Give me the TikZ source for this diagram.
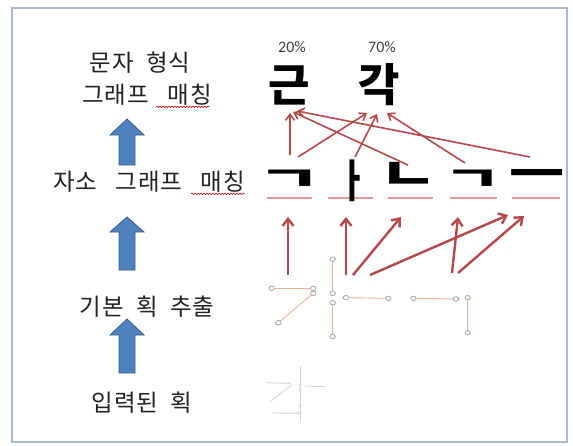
\documentclass[tikz,border=0pt]{standalone}
\usepackage{fontspec}
\setmainfont{Noto Sans CJK KR}
\newfontfamily\lblfont{Noto Sans CJK KR}[LetterSpace=4,WordSpace=2]
\newfontfamily\pctfont{Carlito}
\usetikzlibrary{arrows.meta,decorations.pathmorphing,shapes.geometric}
\definecolor{framec}{HTML}{A9B8D0}
\definecolor{bluefill}{HTML}{4F81BD}
\definecolor{blueline}{HTML}{385D8A}
\definecolor{redarr}{HTML}{B5484B}
\definecolor{uline}{HTML}{E49A9A}
\definecolor{strokec}{HTML}{F0B296}
\definecolor{dotc}{HTML}{9C9C9C}
\definecolor{faintc}{HTML}{D9CFC9}
\definecolor{txtc}{HTML}{222222}
\newcommand\wsp{\hspace{6pt}}
\tikzset{
  lbl/.style={font=\lblfont\fontsize{23.5}{26}\selectfont, text=txtc, inner sep=0pt},
  bigsyl/.style={font=\fontsize{45}{50}\selectfont\bfseries, inner sep=0pt},
  jamo/.style={font=\fontsize{40}{44}\selectfont\bfseries, inner sep=0pt},
  pct/.style={font=\pctfont\fontsize{16}{18}\selectfont, text=txtc!85, inner sep=0pt},
  blockarr/.style={fill=bluefill, draw=blueline, line width=0.8pt, line join=miter},
  thinred/.style={draw=redarr, line width=1.6pt, -{Straight Barb[length=6pt,width=9pt]}},
  thickred/.style={draw=redarr, line width=2.4pt, -{Straight Barb[length=7pt,width=11pt]}},
  ul/.style={draw=uline, line width=1.3pt},
  squig/.style={draw=red!80!black, line width=0.6pt, decorate, decoration={snake, amplitude=0.7pt, segment length=3pt}},
  sline/.style={draw=strokec, line width=0.9pt},
  sdot/.style={draw=dotc, fill=white, line width=0.7pt, ellipse, inner sep=0pt, minimum width=5.5pt, minimum height=4.5pt},
  fline/.style={draw=faintc, line width=0.8pt},
}
\begin{document}
\begin{tikzpicture}[x=1pt,y=-1pt]
\useasboundingbox (0,0) rectangle (573,445);
\fill[white] (0,0) rectangle (573,445);
\draw[framec, line width=2pt] (12,8) rectangle (567,442);

% left labels
\node[lbl] (t1) at (140,63) {문자 형식};
\node[lbl] (t2) at (147,95) {그래프\wsp{} 매칭};
\node[lbl] (t3) at (149,182) {자소\wsp{} 그래프\wsp{} 매칭};
\node[lbl] (t4) at (147,307) {기본 획 추출};
\node[lbl] (t5) at (142,403) {입력된 획};
\draw[squig] ([xshift=-56pt,yshift=-1pt]t2.south east) -- ([xshift=-2pt,yshift=-1pt]t2.south east);
\draw[squig] ([xshift=-54pt,yshift=-1pt]t3.south east) -- ([xshift=0pt,yshift=-1pt]t3.south east);

% block arrows
\draw[blockarr] (127,119) -- ++(17,16) -- ++(-9,0) -- ++(0,30) -- ++(-16,0) -- ++(0,-30) -- ++(-9,0) -- cycle;
\draw[blockarr] (127,217) -- ++(17,15) -- ++(-9,0) -- ++(0,38) -- ++(-16,0) -- ++(0,-38) -- ++(-9,0) -- cycle;
\draw[blockarr] (127,319) -- ++(17,16) -- ++(-9,0) -- ++(0,38) -- ++(-16,0) -- ++(0,-38) -- ++(-9,0) -- cycle;

% percentages and syllables
\node[pct] (p1) at (292,47) {20\%};
\node[pct] (p2) at (382,47) {70\%};
\node[bigsyl] (s1) at (289,85) {근};
\node[bigsyl] (s2) at (379,85) {각};

% underlines
\draw[ul] (267,198) -- (312,198);
\draw[ul] (328,198) -- (373,198);
\draw[ul] (388,198) -- (433,198);
\draw[ul] (450,198) -- (497,198);
\draw[ul] (512,198) -- (560,198);

% jamo
\node[jamo, xscale=1.75, yscale=0.8] (j1) at (290,180) {ㄱ};
\node[jamo, xscale=0.75, yscale=1.12] (j2) at (353,181) {ㅏ};
\node[jamo, xscale=1.6, yscale=1.1] (j3) at (409,176) {ㄴ};
\node[jamo, xscale=1.6, yscale=0.8] (j4) at (473,180) {ㄱ};
\node[jamo, xscale=1.5, yscale=1.2] (j5) at (537,180) {ㅡ};

% upper arrows
\coordinate (a1s) at (290,155); \coordinate (a1e) at (290,113);
\coordinate (a2s) at (298,157); \coordinate (a2e) at (367,113);
\coordinate (a3s) at (355,157); \coordinate (a3e) at (377,114);
\coordinate (a4s) at (408,165); \coordinate (a4e) at (293,112);
\coordinate (a5s) at (465,163); \coordinate (a5e) at (387,113);
\coordinate (a6s) at (530,157); \coordinate (a6e) at (297,111);
\draw[thinred] (a1s) -- (a1e);
\draw[thinred] (a2s) -- (a2e);
\draw[thinred] (a3s) -- (a3e);
\draw[thinred] (a4s) -- (a4e);
\draw[thinred] (a5s) -- (a5e);
\draw[thinred] (a6s) -- (a6e);

% lower arrows
\coordinate (b1s) at (288,275); \coordinate (b1e) at (288,217);
\coordinate (b2s) at (346,275); \coordinate (b2e) at (346,217);
\coordinate (b3s) at (353,275); \coordinate (b3e) at (401,217);
\coordinate (b4s) at (370,275); \coordinate (b4e) at (508,215);
\coordinate (b5s) at (452,273); \coordinate (b5e) at (458,217);
\coordinate (b6s) at (458,273); \coordinate (b6e) at (524,216);
\draw[thickred] (b1s) -- (b1e);
\draw[thickred] (b2s) -- (b2e);
\draw[thickred] (b3s) -- (b3e);
\draw[thickred] (b4s) -- (b4e);
\draw[thickred] (b5s) -- (b5e);
\draw[thickred] (b6s) -- (b6e);

% basic strokes
\draw[sline] (271.7,288.3) -- (313.3,288.3);
\draw[sline] (313.3,293.3) -- (278.3,322.7);
\draw[sline] (332.7,259.3) -- (332.7,293.3);
\draw[sline] (332.7,302.7) -- (332.7,336.7);
\draw[sline] (346,297.7) -- (388.3,298.3);
\draw[sline] (413.3,298.3) -- (456,299);
\draw[sline] (467.7,297.7) -- (467.7,332.7);
\foreach \n/\p in {c1/{(271.7,288.3)},c2/{(313.3,288.3)},c3/{(313.3,293.3)},c4/{(278.3,322.7)},
  c5/{(332.7,259.3)},c6/{(332.7,293.3)},c7/{(332.7,302.7)},c8/{(332.7,336.7)},
  c9/{(346,297.7)},c10/{(388.3,298.3)},c11/{(413.3,298.3)},c12/{(456,299)},
  c13/{(467.7,297.7)},c14/{(467.7,332.7)}}
  \node[sdot] (\n) at \p {};

% input strokes (faint)
\draw[fline, -{Stealth[length=2pt,width=2pt]}] (266.7,382.7) -- (291,383.3);
\draw[fline] (291.7,385) -- (270,401.7);
\draw[fline] (300,366) -- (300,421);
\draw[fline, -{Stealth[length=2pt,width=2pt]}] (305,386) -- (325,386.7);
\draw[fline, -{Stealth[length=2pt,width=2pt]}] (271.7,413) -- (299,413.3);
\foreach \n/\y in {d1/385,d2/390,d3/406,d4/413}
  \node[circle, draw=faintc, fill=white, inner sep=0pt, minimum size=2.5pt] (\n) at (300,\y) {};
\end{tikzpicture}
\end{document}
